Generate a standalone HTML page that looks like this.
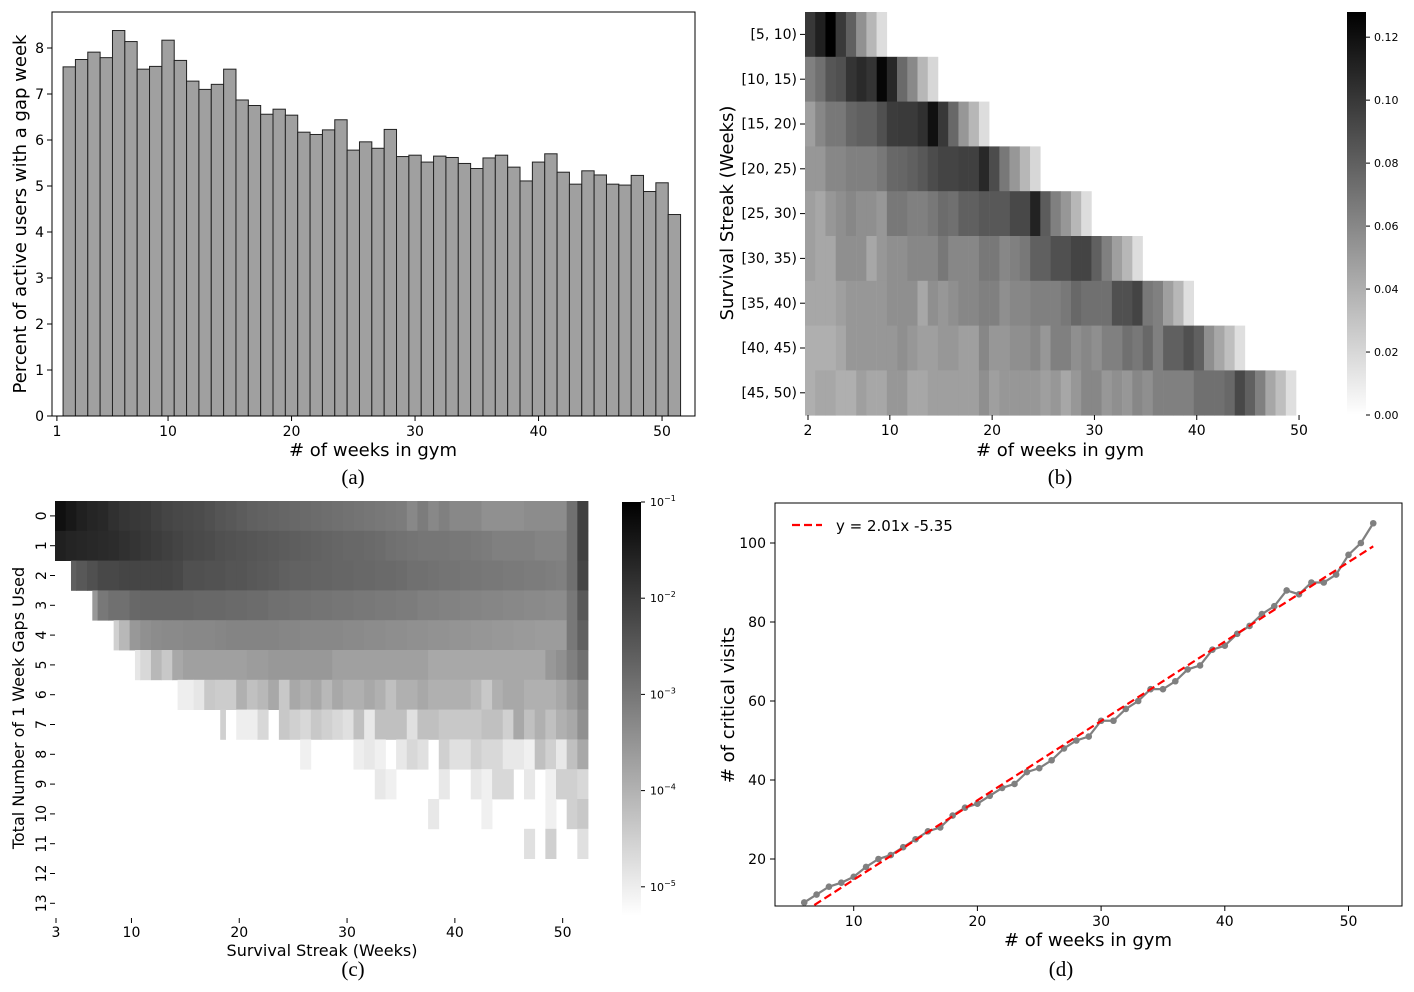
<!DOCTYPE html>
<html><head><meta charset="utf-8">
<style>
html,body{margin:0;padding:0;background:#fff;}
svg{display:block;font-family:"DejaVu Sans","Liberation Sans",sans-serif;}
.serif{font-family:"Liberation Serif",serif;}
</style></head>
<body>
<svg id="chart" width="1414" height="992" viewBox="0 0 1414 992" xmlns="http://www.w3.org/2000/svg">
<defs>
<linearGradient id="gradB" x1="0" y1="1" x2="0" y2="0"><stop offset="0" stop-color="#fff"/><stop offset="1" stop-color="#000"/></linearGradient>
<linearGradient id="gradC" x1="0" y1="1" x2="0" y2="0"><stop offset="0" stop-color="#fff"/><stop offset="1" stop-color="#000"/></linearGradient>
<clipPath id="clipD"><rect x="775" y="503" width="627" height="403"/></clipPath>
</defs>
</svg>
<script>
// ---------- Panel (a) data ----------
const aWeeks = [2,3,4,5,6,7,8,9,10,11,12,13,14,15,16,17,18,19,20,21,22,23,24,25,26,27,28,29,30,31,32,33,34,35,36,37,38,39,40,41,42,43,44,45,46,47,48,49,50,51];
const aValues = [7.59,7.75,7.91,7.79,8.38,8.14,7.54,7.60,8.17,7.73,7.28,7.10,7.21,7.54,6.87,6.75,6.56,6.67,6.54,6.17,6.12,6.22,6.44,5.78,5.96,5.82,6.23,5.64,5.67,5.52,5.65,5.62,5.49,5.38,5.61,5.67,5.41,5.11,5.52,5.70,5.30,5.04,5.33,5.24,5.04,5.02,5.23,4.88,5.07,4.38];
const aYTicks = [0,1,2,3,4,5,6,7,8];
const aXTicks = [1,10,20,30,40,50];

// ---------- Panel (b) data ----------
const bRowLabels = ["[5, 10)","[10, 15)","[15, 20)","[20, 25)","[25, 30)","[30, 35)","[35, 40)","[40, 45)","[45, 50)"];
const bRow0 = [0.100,0.112,0.128,0.099,0.080,0.055,0.036,0.017];
const bRow1 = [0.064,0.072,0.085,0.088,0.102,0.107,0.102,0.125,0.108,0.075,0.059,0.036,0.020];
const bRow2 = [0.048,0.060,0.068,0.068,0.077,0.080,0.080,0.088,0.098,0.099,0.099,0.104,0.120,0.100,0.076,0.052,0.036,0.017];
const bRow3 = [0.052,0.052,0.060,0.060,0.064,0.064,0.064,0.068,0.076,0.077,0.080,0.084,0.090,0.094,0.094,0.096,0.096,0.108,0.090,0.068,0.052,0.036,0.020];
const bRow4 = [0.048,0.044,0.052,0.056,0.060,0.056,0.056,0.052,0.068,0.068,0.064,0.064,0.068,0.074,0.072,0.080,0.080,0.084,0.084,0.084,0.092,0.092,0.111,0.082,0.064,0.052,0.036,0.017];
const bRow5 = [0.048,0.044,0.044,0.056,0.056,0.056,0.044,0.052,0.056,0.056,0.060,0.060,0.060,0.068,0.060,0.060,0.060,0.068,0.068,0.060,0.064,0.068,0.080,0.080,0.088,0.088,0.094,0.094,0.080,0.064,0.048,0.036,0.017];
const bRow6 = [0.044,0.044,0.044,0.048,0.052,0.052,0.052,0.052,0.056,0.056,0.056,0.044,0.056,0.052,0.056,0.060,0.060,0.064,0.064,0.056,0.060,0.060,0.064,0.064,0.064,0.068,0.076,0.072,0.072,0.072,0.088,0.088,0.094,0.068,0.064,0.048,0.036,0.016];
const bRow7 = [0.040,0.040,0.040,0.044,0.052,0.052,0.052,0.052,0.052,0.056,0.052,0.048,0.048,0.052,0.052,0.048,0.048,0.060,0.052,0.052,0.056,0.056,0.060,0.052,0.064,0.064,0.056,0.060,0.056,0.064,0.064,0.072,0.068,0.076,0.064,0.080,0.080,0.088,0.080,0.056,0.044,0.032,0.016];
const bRow8 = [0.040,0.044,0.044,0.040,0.040,0.048,0.044,0.044,0.052,0.052,0.044,0.044,0.048,0.048,0.048,0.048,0.048,0.056,0.048,0.052,0.052,0.052,0.052,0.048,0.052,0.044,0.052,0.060,0.060,0.052,0.056,0.052,0.060,0.056,0.064,0.064,0.064,0.064,0.072,0.072,0.072,0.076,0.092,0.080,0.064,0.044,0.032,0.016];
const bRows = [bRow0,bRow1,bRow2,bRow3,bRow4,bRow5,bRow6,bRow7,bRow8];
const bXTicks = [2,10,20,30,40,50];
const bCbTicks = [0.00,0.02,0.04,0.06,0.08,0.10,0.12];
const bCbMax = 0.128;

// ---------- Panel (c) data (log10 of share) ----------
const cStarts = [0,0,1.5,3.5,5.5,7.5,11.5,15.5,23,30,35,44];
const cRow0 = [-1.27,-1.41,-1.54,-1.62,-1.67,-1.81,-1.89,-1.94,-1.98,-2.08,-2.16,-2.21,-2.25,-2.28,-2.35,-2.43,-2.48,-2.55,-2.62,-2.65,-2.69,-2.72,-2.75,-2.79,-2.82,-2.86,-2.89,-2.92,-2.96,-2.99,-3.02,-3.06,-3.09,-3.29,-3.09,-3.29,-3.16,-3.29,-3.29,-3.29,-3.43,-3.43,-3.43,-3.43,-3.36,-3.36,-3.36,-3.36,-2.89,-2.08];
const cRow1 = [-1.54,-1.61,-1.64,-1.67,-1.71,-1.74,-1.81,-1.88,-1.94,-2.01,-2.08,-2.15,-2.21,-2.25,-2.28,-2.35,-2.38,-2.42,-2.45,-2.48,-2.52,-2.55,-2.58,-2.62,-2.65,-2.69,-2.72,-2.75,-2.75,-2.79,-2.82,-2.89,-2.92,-2.96,-2.99,-2.99,-2.99,-3.02,-3.02,-3.06,-3.09,-3.16,-3.16,-3.16,-3.16,-3.23,-3.23,-3.23,-2.89,-2.08];
const cRow2 = [-2.62,-2.48,-2.35,-2.21,-2.21,-2.16,-2.16,-2.16,-2.16,-2.16,-2.21,-2.35,-2.35,-2.38,-2.38,-2.43,-2.43,-2.48,-2.52,-2.55,-2.62,-2.65,-2.65,-2.69,-2.69,-2.72,-2.72,-2.75,-2.75,-2.79,-2.79,-2.82,-2.89,-2.89,-2.92,-2.96,-2.96,-2.99,-2.99,-3.02,-3.02,-3.06,-3.06,-3.09,-3.09,-3.12,-3.16,-2.89,-2.16];
const cRow3 = [-3.56,-3.02,-2.89,-2.89,-2.75,-2.72,-2.72,-2.72,-2.72,-2.72,-2.75,-2.75,-2.75,-2.79,-2.79,-2.82,-2.82,-2.89,-2.89,-2.92,-2.92,-2.96,-2.96,-2.99,-2.99,-3.02,-3.02,-3.06,-3.06,-3.09,-3.09,-3.16,-3.16,-3.19,-3.19,-3.23,-3.23,-3.26,-3.26,-3.29,-3.29,-3.33,-3.33,-3.36,-3.36,-3.02,-2.48];
const cRow4 = [-4.51,-4.10,-3.56,-3.43,-3.36,-3.33,-3.33,-3.29,-3.29,-3.29,-3.26,-3.23,-3.23,-3.23,-3.23,-3.23,-3.26,-3.26,-3.29,-3.29,-3.29,-3.29,-3.33,-3.33,-3.36,-3.36,-3.39,-3.39,-3.43,-3.43,-3.46,-3.46,-3.50,-3.50,-3.53,-3.53,-3.56,-3.56,-3.60,-3.60,-3.63,-3.63,-3.63,-3.02,-2.62];
const cRow5 = [-4.88,-4.64,-4.10,-4.37,-3.83,-3.70,-3.70,-3.70,-3.70,-3.70,-3.70,-3.63,-3.63,-3.56,-3.56,-3.56,-3.56,-3.56,-3.56,-3.70,-3.70,-3.70,-3.70,-3.70,-3.70,-3.70,-3.70,-3.70,-3.83,-3.83,-3.83,-3.83,-3.83,-3.83,-3.83,-3.83,-3.83,-3.83,-3.83,-3.56,-3.43,-3.16,-2.89];
const cRow6 = [-5.01,-5.01,-4.88,-4.37,-4.44,-4.44,-3.97,-4.24,-4.10,-3.83,-4.37,-3.83,-3.97,-3.83,-4.10,-3.83,-3.97,-3.97,-3.83,-3.97,-4.24,-3.97,-3.97,-3.83,-3.97,-3.97,-3.97,-3.97,-4.10,-4.37,-3.97,-3.83,-3.83,-3.97,-3.97,-3.97,-3.83,-3.56,-3.29];
const cRow7 = [-4.51,null,-5.01,-5.01,-4.64,null,-4.37,-4.51,-4.64,-4.37,-4.51,-4.64,-4.78,-4.24,-4.91,-4.24,-4.24,-4.24,-4.78,-4.24,-4.24,-4.37,-4.37,-4.37,-4.37,-4.24,-4.24,-4.51,-3.83,-4.24,-3.97,-4.24,-3.97,-3.83,-3.43];
const cRow8 = [-5.05,null,null,null,null,-5.01,-4.91,-5.05,null,-4.91,-4.64,-4.78,null,-4.51,-4.78,-4.78,-4.51,-4.64,-4.64,-4.91,-4.91,-5.05,-4.24,-4.51,-4.91,-4.24,-3.83];
const cRow9 = [-4.91,-5.05,null,null,null,null,-4.91,null,null,-4.91,-5.05,-4.64,-4.64,null,-4.91,null,-5.05,-4.51,-4.51,-4.64];
const cRow10 = [-4.91,null,null,null,null,-5.05,null,null,null,null,null,-5.05,null,-4.51,-4.37];
const cRow11 = [-4.78,null,-4.51,null,null,-4.78];
const cRows = [cRow0,cRow1,cRow2,cRow3,cRow4,cRow5,cRow6,cRow7,cRow8,cRow9,cRow10,cRow11];
const cYLabels = ["0","1","2","3","4","5","6","7","8","9","10","11","12","13"];
const cXTicks = [3,10,20,30,40,50];
const cCbTicks = [-1,-2,-3,-4,-5];
const cLogMin = -5.3, cLogMax = -1.0;

// ---------- Panel (d) data ----------
const dWeeks = [6,7,8,9,10,11,12,13,14,15,16,17,18,19,20,21,22,23,24,25,26,27,28,29,30,31,32,33,34,35,36,37,38,39,40,41,42,43,44,45,46,47,48,49,50,51,52];
const dVisits = [9,11,13,14,15.5,18,20,21,23,25,27,28,31,33,34,36,38,39,42,43,45,48,50,51,55,55,58,60,63,63,65,68,69,73,74,77,79,82,84,88,87,90,90,92,97,100,105];
const dSlope = 2.01, dIntercept = -5.35;
const dXTicks = [10,20,30,40,50];
const dYTicks = [20,40,60,80,100];

const NS = "http://www.w3.org/2000/svg";
const svg = document.getElementById('chart');
function mk(tag, attrs, parent){
  const e = document.createElementNS(NS, tag);
  for (const k in attrs) e.setAttribute(k, attrs[k]);
  (parent || svg).appendChild(e);
  return e;
}
function tx(x, y, s, size, anchor, cls){
  const e = mk('text', {x:x, y:y, 'font-size':size, 'text-anchor':anchor||'middle', fill:'#000'});
  if (cls) e.setAttribute('class', cls);
  e.textContent = s;
  return e;
}
function grayB(v){ const g = Math.round(255*(1 - Math.min(v,bCbMax)/bCbMax)); return `rgb(${g},${g},${g})`; }
function grayC(l){ let f = (l - cLogMin)/(cLogMax - cLogMin); f = Math.max(0, Math.min(1, f)); const g = Math.round(255*(1-f)); return `rgb(${g},${g},${g})`; }

// ================= Panel (a) =================
const xa = v => 56.9 + (v - 1)*12.35;
const ya = v => 416 - v*46;
const gA = mk('g', {});


aWeeks.forEach((w, i) => {
  const r = mk('rect', {x:xa(w-0.5), y:ya(aValues[i]), width:12.35, height:ya(0)-ya(aValues[i]), fill:'#a0a0a0', stroke:'#222', 'stroke-width':1}, gA);
  
  
});
const frameA = mk('rect', {x:52, y:12, width:643, height:404, fill:'none', stroke:'#000', 'stroke-width':1}, gA);


aYTicks.forEach(t => {
  mk('line', {x1:47, x2:52, y1:ya(t), y2:ya(t), stroke:'#000'}, gA);
  const l = tx(44, ya(t)+5, String(t), 14, 'end');
  
  
});
aXTicks.forEach(t => {
  mk('line', {x1:xa(t), x2:xa(t), y1:416, y2:421, stroke:'#000'}, gA);
  const l = tx(xa(t), 436, String(t), 14);
  
  
});
const aYT = tx(0, 0, 'Percent of active users with a gap week', 18);
aYT.setAttribute('transform', 'translate(26,214) rotate(-90)');


const aXT = tx(373, 456, '# of weeks in gym', 18);


const aCap = tx(353, 484, '(a)', 21, 'middle', 'serif');



// ================= Panel (b) =================
const xb = w => 808 + (w - 2)*10.23;
const yb = r => 12 + r*44.8;
const gB = mk('g', {});


bRows.forEach((row, r) => {
  row.forEach((v, j) => {
    const c = mk('rect', {x:xb(2+j)-3, y:yb(r), width:10.5, height:45.2, fill:grayB(v)}, gB);
    
    
  });
  mk('line', {x1:800, x2:805, y1:yb(r)+22.4, y2:yb(r)+22.4, stroke:'#000'}, gB);
  const l = tx(797, yb(r)+27, bRowLabels[r], 14, 'end');
  
  
});
bXTicks.forEach(t => {
  mk('line', {x1:xb(t), x2:xb(t), y1:415, y2:420, stroke:'#000'}, gB);
  const l = tx(xb(t), 435, String(t), 14);
  
  
});
const bYT = tx(0, 0, 'Survival Streak (Weeks)', 18);
bYT.setAttribute('transform', 'translate(733,213) rotate(-90)');


const bXT = tx(1060, 456, '# of weeks in gym', 18);


const bCap = tx(1060, 484, '(b)', 21, 'middle', 'serif');


const cbB = mk('rect', {x:1347, y:12, width:19, height:403, fill:'url(#gradB)'}, gB);


const ycbB = v => 415 - v/bCbMax*403;
bCbTicks.forEach(t => {
  mk('line', {x1:1366, x2:1370, y1:ycbB(t), y2:ycbB(t), stroke:'#000'}, gB);
  const l = tx(1374, ycbB(t)+4, t.toFixed(2), 11, 'start');
  
  
});

// ================= Panel (c) =================
const xc = col => 55 + col*10.66;
const yc = r => 501 + r*29.8;
const xcTick = t => 56 + (t - 3)*10.78;
const gC = mk('g', {});


cRows.forEach((row, r) => {
  const s = cStarts[r];
  const base = Math.floor(s);
  row.forEach((v, j) => {
    if (v === null) return;
    const col = base + j;
    const x0 = Math.max(col, s);
    const c = mk('rect', {x:xc(x0), y:yc(r), width:xc(col+1)-xc(x0)+0.4, height:30.2, fill:grayC(v)}, gC);
    
    
  });
});
cYLabels.forEach((lab, r) => {
  mk('line', {x1:50, x2:55, y1:yc(r)+14.9, y2:yc(r)+14.9, stroke:'#000'}, gC);
  const l = tx(0, 0, lab, 14);
  l.setAttribute('transform', `translate(${46},${yc(r)+14.9}) rotate(-90)`);
  
  
});
cXTicks.forEach(t => {
  mk('line', {x1:xcTick(t), x2:xcTick(t), y1:918, y2:923, stroke:'#000'}, gC);
  const l = tx(xcTick(t), 937, String(t), 14);
  
  
});
const cYT = tx(0, 0, 'Total Number of 1 Week Gaps Used', 16);
cYT.setAttribute('transform', 'translate(24,708) rotate(-90)');


const cXT = tx(322, 956, 'Survival Streak (Weeks)', 16);


const cCap = tx(353, 976, '(c)', 21, 'middle', 'serif');


const ycbC = l => 502 + (cLogMax - l)*96.2;
const cbC = mk('rect', {x:622, y:ycbC(cLogMax), width:19, height:ycbC(cLogMin)-ycbC(cLogMax), fill:'url(#gradC)'}, gC);


cCbTicks.forEach(t => {
  mk('line', {x1:641, x2:645, y1:ycbC(t), y2:ycbC(t), stroke:'#000'}, gC);
  const l = mk('text', {x:650, y:ycbC(t)+4, 'font-size':11, fill:'#000'}, gC);
  
  
  l.textContent = '10';
  const sup = mk('tspan', {dy:-5, 'font-size':8}, l);
  sup.textContent = '\u2212' + String(-t);
});

// ================= Panel (d) =================
const xd = v => 730 + v*12.37;
const yd = v => 938 - v*3.95;
const gD = mk('g', {});


const frameD = mk('rect', {x:775, y:503, width:627, height:403, fill:'none', stroke:'#000', 'stroke-width':1}, gD);


dXTicks.forEach(t => {
  mk('line', {x1:xd(t), x2:xd(t), y1:906, y2:911, stroke:'#000'}, gD);
  const l = tx(xd(t), 926, String(t), 14);
  
  
});
dYTicks.forEach(t => {
  mk('line', {x1:770, x2:775, y1:yd(t), y2:yd(t), stroke:'#000'}, gD);
  const l = tx(766, yd(t)+5, String(t), 14, 'end');
  
  
});
const series = mk('polyline', {points:dWeeks.map((w,i)=>xd(w)+','+yd(dVisits[i])).join(' '), fill:'none', stroke:'#808080', 'stroke-width':2.2, 'clip-path':'url(#clipD)'}, gD);


dWeeks.forEach((w, i) => {
  const p = mk('circle', {cx:xd(w), cy:yd(dVisits[i]), r:3.3, fill:'#808080'}, gD);
  
  
});
const fx0 = dWeeks[0], fx1 = dWeeks[dWeeks.length-1];
const fit = mk('line', {x1:xd(fx0), y1:yd(dSlope*fx0+dIntercept), x2:xd(fx1), y2:yd(dSlope*fx1+dIntercept), stroke:'#ff0000', 'stroke-width':2.2, 'stroke-dasharray':'8,4', 'clip-path':'url(#clipD)'}, gD);


const legLine = mk('line', {x1:792, x2:822, y1:525, y2:525, stroke:'#ff0000', 'stroke-width':2.2, 'stroke-dasharray':'8,4'}, gD);


const legText = tx(836, 531, 'y = ' + dSlope.toFixed(2) + 'x ' + dIntercept.toFixed(2), 15, 'start');


const dYT = tx(0, 0, '# of critical visits', 18);
dYT.setAttribute('transform', 'translate(734,705) rotate(-90)');


const dXT = tx(1088, 946, '# of weeks in gym', 18);


const dCap = tx(1061, 976, '(d)', 21, 'middle', 'serif');


</script>
</body></html>
